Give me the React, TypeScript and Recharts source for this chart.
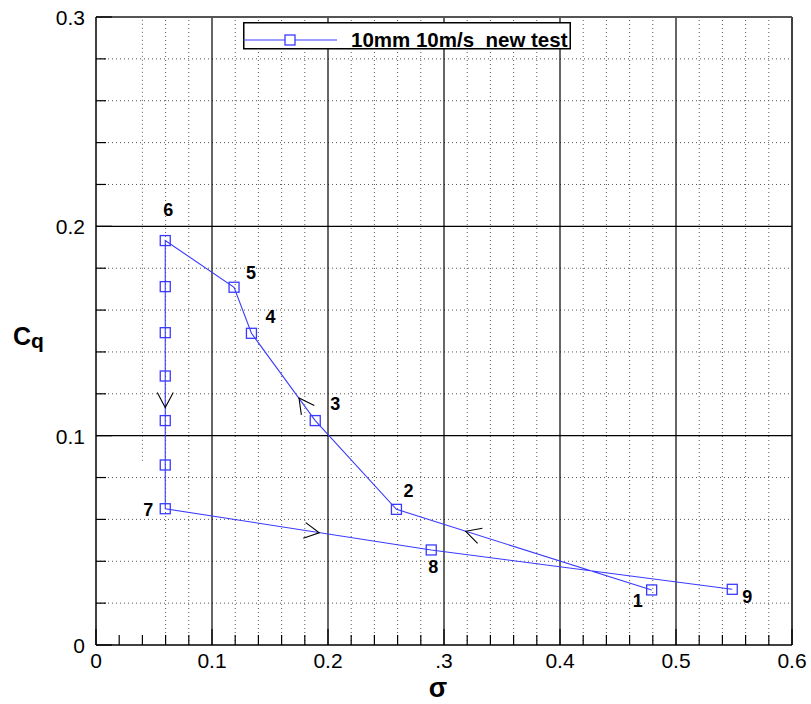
import { LineChart, Line, XAxis, YAxis, ReferenceLine, ReferenceDot, Legend } from "recharts";

// measured points, in the order they were run (1 -> 6 -> down -> 7 -> 8 -> 9)
const sigma = [0.479, 0.259, 0.189, 0.134, 0.119, 0.0597, 0.0597, 0.0597, 0.0597, 0.0597, 0.0597, 0.0597, 0.289, 0.5485];
const cq = [0.0263, 0.0648, 0.1072, 0.1489, 0.1709, 0.1932, 0.1712, 0.1492, 0.1285, 0.1072, 0.086, 0.0651, 0.0454, 0.0266];

const xTicks = [0, 0.02, 0.04, 0.06, 0.08, 0.1, 0.12, 0.14, 0.16, 0.18, 0.2, 0.22, 0.24, 0.26, 0.28, 0.3, 0.32, 0.34, 0.36, 0.38, 0.4, 0.42, 0.44, 0.46, 0.48, 0.5, 0.52, 0.54, 0.56, 0.58, 0.6];
const yTicks = [0, 0.02, 0.04, 0.06, 0.08, 0.1, 0.12, 0.14, 0.16, 0.18, 0.2, 0.22, 0.24, 0.26, 0.28, 0.3];
const xTickLabels = ["0", "0.1", "0.2", ".3", "0.4", "0.5", "0.6"];
const yTickLabels = ["0", "0.1", "0.2", "0.3"];

const seriesName = "10mm 10m/s  new test";

// run-number tags next to the points (index into the series)
const pointTags = [
  { i: 0, text: "1", dx: -14, dy: 11 },
  { i: 1, text: "2", dx: 12, dy: -19 },
  { i: 2, text: "3", dx: 20, dy: -17 },
  { i: 3, text: "4", dx: 19, dy: -17 },
  { i: 4, text: "5", dx: 17, dy: -15 },
  { i: 5, text: "6", dx: 3, dy: -31 },
  { i: 11, text: "7", dx: -17, dy: 1 },
  { i: 12, text: "8", dx: 2, dy: 17 },
  { i: 13, text: "9", dx: 15, dy: 7 },
];

// direction arrows drawn on the path (tip position, heading in degrees)
const flowArrows = [
  { sigma: 0.0597, cq: 0.1134, angle: 90 },
  { sigma: 0.175, cq: 0.118, angle: -126 },
  { sigma: 0.1925, cq: 0.0536, angle: 9 },
  { sigma: 0.3187, cq: 0.0543, angle: 197.5 },
];

const rows = sigma.map((s, i) => ({ sigma: s, cq: cq[i] }));

const BLUE = "#3a3aff";
const FONT = "'Liberation Sans', Arial, sans-serif";

const isMajor = (v: number) => Math.abs(v * 10 - Math.round(v * 10)) < 1e-6;
const xDotted = xTicks.filter((v) => !isMajor(v) && v > 0.05);
const yDotted = yTicks.filter((v) => !isMajor(v));

function XTick(props: any) {
  const { x, y, payload } = props;
  const v = payload.value;
  const major = isMajor(v);
  return (
    <g>
      <line x1={x} y1={y} x2={x} y2={y - (major ? 16 : 10)} stroke="#000" strokeWidth={1.2} />
      {major && (
        <text x={x} y={y + 23} textAnchor="middle" fontSize={21} fontFamily={FONT} fill="#000">
          {xTickLabels[Math.round(v * 10)]}
        </text>
      )}
    </g>
  );
}

function YTick(props: any) {
  const { x, y, payload } = props;
  const v = payload.value;
  const major = isMajor(v);
  return (
    <g>
      <line x1={x} y1={y} x2={x + (major ? 16 : 10)} y2={y} stroke="#000" strokeWidth={1.2} />
      {major && (
        <text x={x - 11} y={y + 8} textAnchor="end" fontSize={21} fontFamily={FONT} fill="#000">
          {yTickLabels[Math.round(v * 10)]}
        </text>
      )}
    </g>
  );
}

function SquareDot(props: any) {
  const { cx, cy } = props;
  if (cx == null || cy == null) return null;
  return <rect x={cx - 5} y={cy - 5} width={10} height={10} fill="none" stroke={BLUE} strokeWidth={1.3} />;
}

function SigmaTitle(props: any) {
  const vb = props.viewBox;
  return (
    <text x={vb.x + vb.width / 2 - 6} y={vb.y + 52} textAnchor="middle" fontSize={27} fontWeight="bold" fontFamily={FONT} fill="#000">
      σ
    </text>
  );
}

function CqTitle(props: any) {
  const vb = props.viewBox;
  const base = vb.y + vb.height / 2 + 14;
  return (
    <text x={vb.x + 13} y={base} fontSize={25} fontWeight="bold" fontFamily={FONT} fill="#000">
      C
      <tspan fontSize={21} dy={3}>q</tspan>
    </text>
  );
}

function LegendBox() {
  return (
    <svg width={332} height={30} style={{ display: "block", overflow: "visible" }}>
      <rect x={0.75} y={0.75} width={326.5} height={26} fill="#fff" stroke="#000" strokeWidth={1.5} />
      <line x1={0} y1={18} x2={94} y2={18} stroke={BLUE} strokeWidth={1.2} />
      <rect x={42} y={13} width={10} height={10} fill="#fff" stroke={BLUE} strokeWidth={1.3} />
      <text x={108} y={25} fontSize={20.5} fontWeight="bold" fontFamily={FONT} fill="#000" style={{ whiteSpace: "pre" }}>
        {seriesName}
      </text>
    </svg>
  );
}

function arrowShape(angle: number) {
  return (p: any) => {
    const { cx, cy } = p;
    const back = ((angle + 180) * Math.PI) / 180;
    const spread = (28 * Math.PI) / 180;
    const len = 17;
    const ax = cx + len * Math.cos(back - spread);
    const ay = cy + len * Math.sin(back - spread);
    const bx = cx + len * Math.cos(back + spread);
    const by = cy + len * Math.sin(back + spread);
    return <polyline points={`${ax},${ay} ${cx},${cy} ${bx},${by}`} fill="none" stroke="#000" strokeWidth={1.1} />;
  };
}

function tagShape(text: string, dx: number, dy: number) {
  return (p: any) => (
    <text x={p.cx + dx} y={p.cy + dy + 6.5} textAnchor="middle" fontSize={18} fontWeight="bold" fontFamily={FONT} fill="#000">
      {text}
    </text>
  );
}

export default function App() {
  return (
    <div style={{ position: "absolute", left: 0, top: 0, width: 811, height: 704, background: "#fff" }}>
      <LineChart width={811} height={704} data={rows} margin={{ top: 17, right: 19, bottom: 0, left: 0 }}>
        {/* dotted minor grid */}
        {xDotted.map((v) => (
          <ReferenceLine key={`xd${v}`} x={v} stroke="#555" strokeDasharray="1 3" strokeWidth={1} />
        ))}
        <ReferenceLine
          segment={[{ x: 0.04, y: 0.088 }, { x: 0.04, y: 0.3 }]}
          stroke="#555"
          strokeDasharray="1 3"
          strokeWidth={1}
        />
        {yDotted.map((v) => (
          <ReferenceLine key={`yd${v}`} y={v} stroke="#555" strokeDasharray="1 3" strokeWidth={1} />
        ))}
        {/* solid major grid */}
        {[0.1, 0.2, 0.3, 0.4, 0.5].map((v) => (
          <ReferenceLine key={`xm${v}`} x={v} stroke="#000" strokeWidth={1.2} />
        ))}
        {[0.1, 0.2].map((v) => (
          <ReferenceLine key={`ym${v}`} y={v} stroke="#000" strokeWidth={1.2} />
        ))}
        <ReferenceLine x={0.6} stroke="#000" strokeWidth={1.5} />
        <ReferenceLine y={0.3} stroke="#555" strokeWidth={2} />

        <XAxis
          dataKey="sigma"
          type="number"
          domain={[0, 0.6]}
          ticks={xTicks}
          interval={0}
          tickLine={false}
          tickSize={0}
          tickMargin={0}
          tick={<XTick />}
          axisLine={{ stroke: "#000", strokeWidth: 1.5 }}
          height={59}
          label={<SigmaTitle />}
        />
        <YAxis
          type="number"
          domain={[0, 0.3]}
          ticks={yTicks}
          interval={0}
          tickLine={false}
          tickSize={0}
          tickMargin={0}
          tick={<YTick />}
          axisLine={{ stroke: "#000", strokeWidth: 1.5 }}
          width={96}
          label={<CqTitle />}
        />
        <Legend
          layout="horizontal"
          verticalAlign="middle"
          align="center"
          content={<LegendBox />}
          wrapperStyle={{ position: "absolute", left: 243, top: 22, width: 332, height: 30 }}
        />
        <Line
          dataKey="cq"
          name={seriesName}
          stroke={BLUE}
          strokeWidth={1.1}
          dot={<SquareDot />}
          activeDot={false}
          isAnimationActive={false}
        />
        {flowArrows.map((a, k) => (
          <ReferenceDot key={`ar${k}`} x={a.sigma} y={a.cq} r={0} shape={arrowShape(a.angle)} />
        ))}
        {pointTags.map((t) => (
          <ReferenceDot key={`tag${t.i}`} x={sigma[t.i]} y={cq[t.i]} r={0} shape={tagShape(t.text, t.dx, t.dy)} />
        ))}
      </LineChart>
    </div>
  );
}
